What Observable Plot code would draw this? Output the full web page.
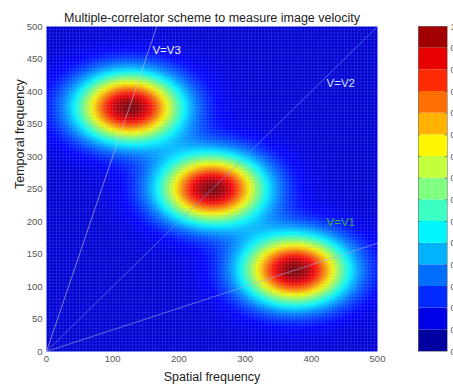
<!DOCTYPE html>
<html>
<head>
<meta charset="utf-8">
<script src="https://cdn.jsdelivr.net/npm/d3@7"></script>
<script src="https://cdn.jsdelivr.net/npm/@observablehq/plot@0.6"></script>
<style>
  html, body { margin: 0; padding: 0; background: #fff; overflow: hidden; }
  #wrap { position: relative; width: 453px; height: 390px; }
  #wrap > svg { position: absolute; top: 0; }
</style>
</head>
<body>
<div id="wrap"></div>
<script>
// ---- data ----
const title = "Multiple-correlator scheme to measure image velocity";
const xLabel = "Spatial frequency";
const yLabel = "Temporal frequency";
const xTicks = [0, 100, 200, 300, 400, 500];
const yTicks = [0, 50, 100, 150, 200, 250, 300, 350, 400, 450, 500];

// Gaussian blobs in the (spatial, temporal) frequency plane
const blobX = [125, 250, 375];
const blobY = [375, 250, 125];
const blobSigmaX = [55, 55, 55];
const blobSigmaY = [37, 37, 37];
const blobAmp = [0.92, 0.92, 0.92];
const baseLevel = 0.08;
const cellSize = 5;           // grid cell size (units)
const gridCount = 100;        // cells per side

// velocity lines V = temporal / spatial
const velNames = ["V=V1", "V=V2", "V=V3"];
const velSlopes = [1 / 3, 1, 3];
const velLineColors = ["#9fb2e0", "#5f9cff", "#d0d0d0"];
const velLabelColors = ["#2fb84a", "#cfe2ff", "#f2f2f2"];
const velLabelX = [423, 423, 160];
const velLabelY = [198, 412, 463];

// jet colormap
const jetStops = [0, 0.125, 0.375, 0.625, 0.875, 1];
const jetColors = ["#000080", "#0000ff", "#00ffff", "#ffff00", "#ff0000", "#800000"];
const cbBands = 15;
const cbTickValues = d3.range(0, cbBands + 1).map(k => k / cbBands);
const cbTickLabels = cbTickValues.map(v => v === 1 ? "1" : v === 0 ? "0" : d3.format(".4f")(v).replace(/0+$/, ""));

// ---- build field ----
const grid = [];
for (let i = 0; i < gridCount; i++) {
  for (let j = 0; j < gridCount; j++) {
    const x = cellSize * (i + 0.5), y = cellSize * (j + 0.5);
    let v = baseLevel;
    for (let b = 0; b < blobX.length; b++) {
      const dx = (x - blobX[b]) / blobSigmaX[b], dy = (y - blobY[b]) / blobSigmaY[b];
      v += blobAmp[b] * Math.exp(-0.5 * (dx * dx + dy * dy));
    }
    grid.push({x, y, v: Math.min(1, v)});
  }
}
const gridLines = d3.range(0, 500 + cellSize, cellSize);
const vels = velNames.map((name, i) => ({
  name, slope: velSlopes[i], line: velLineColors[i], color: velLabelColors[i],
  lx: velLabelX[i], ly: velLabelY[i]
}));

const colorScale = {type: "linear", domain: jetStops, range: jetColors, interpolate: "rgb"};
const font = "'Liberation Sans', Arial, sans-serif";

const main = Plot.plot({
  width: 453, height: 390,
  marginLeft: 46, marginRight: 76, marginTop: 26, marginBottom: 39,
  x: {domain: [0, 500], ticks: xTicks, tickSize: 0, tickPadding: 4, label: null},
  y: {domain: [0, 500], ticks: yTicks, tickSize: 0, tickPadding: 4, label: null},
  color: colorScale,
  style: {fontFamily: font, fontSize: "9.5px", color: "#555", background: "transparent", overflow: "visible"},
  marks: [
    Plot.raster(grid, {x: "x", y: "y", fill: "v", x1: 0, y1: 0, x2: 500, y2: 500,
      width: gridCount, height: gridCount, imageRendering: "auto"}),
    Plot.ruleX(gridLines, {stroke: "#a0a8ff", strokeOpacity: 0.25, strokeWidth: 0.7}),
    Plot.ruleY(gridLines, {stroke: "#a0a8ff", strokeOpacity: 0.25, strokeWidth: 0.7}),
    ...vels.map(v => Plot.link([v], {
      x1: () => 0, y1: () => 0,
      x2: d => Math.min(500, 500 / d.slope), y2: d => Math.min(500, 500 * d.slope),
      stroke: v.line, strokeWidth: 1, strokeOpacity: 0.55
    })),
    ...vels.map(v => Plot.text([v], {
      x: "lx", y: "ly", text: "name", fill: v.color, textAnchor: "start",
      fontSize: 11.5, fontFamily: font
    })),
    Plot.axisX({ticks: xTicks, tickSize: 0, tickPadding: 4, label: null, fill: "#555"}),
    Plot.axisY({ticks: yTicks, tickSize: 0, tickPadding: 4, label: null, fill: "#555"}),
    Plot.text([title], {frameAnchor: "top", dy: -13, fontSize: 12.5, fill: "#222", fontFamily: font}),
    Plot.text([xLabel], {frameAnchor: "bottom", dy: 29, fontSize: 12.5, fill: "#222", fontFamily: font}),
    Plot.text([yLabel], {frameAnchor: "left", dx: -27, rotate: -90, fontSize: 12.5, fill: "#222", fontFamily: font})
  ]
});
main.style.left = "0px";

const bands = d3.range(cbBands).map(k => ({y1: k / cbBands, y2: (k + 1) / cbBands, v: (k + 0.5) / cbBands}));
const cbTicks = cbTickValues.map((v, i) => ({v, label: cbTickLabels[i]}));
const bar = Plot.plot({
  width: 53, height: 390,
  marginLeft: 18, marginRight: 6, marginTop: 26, marginBottom: 39,
  x: {domain: [0, 1], axis: null},
  y: {domain: [0, 1], axis: null},
  color: colorScale,
  style: {fontFamily: font, fontSize: "9.5px", background: "transparent", overflow: "visible"},
  marks: [
    Plot.rect(bands, {x1: () => 0, x2: () => 1, y1: "y1", y2: "y2", fill: "v"}),
    Plot.ruleY(cbTicks.filter(d => d.v > 0 && d.v < 1), {y: "v", x1: () => 0, x2: () => 0.08, stroke: "#555", strokeWidth: 0.7}),
    Plot.ruleY(cbTicks.filter(d => d.v > 0 && d.v < 1), {y: "v", x1: () => 0.92, x2: () => 1, stroke: "#555", strokeWidth: 0.7}),
    Plot.frame({stroke: "#777", strokeWidth: 0.6}),
    Plot.text(cbTicks, {x: () => 1, y: "v", text: "label", dx: 3, textAnchor: "start", fill: "#555", fontFamily: font})
  ]
});
bar.style.left = "400px";

const wrap = document.getElementById("wrap");
wrap.appendChild(main);
wrap.appendChild(bar);
</script>
</body>
</html>
